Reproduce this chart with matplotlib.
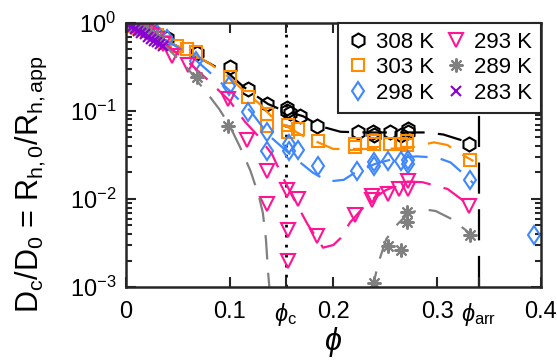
import matplotlib
matplotlib.use("Agg")
import matplotlib.pyplot as plt

plt.rcParams['font.family'] = ['Liberation Sans', 'DejaVu Sans']
plt.rcParams['mathtext.fontset'] = 'custom'
plt.rcParams['mathtext.rm'] = 'Liberation Sans'
plt.rcParams['mathtext.it'] = 'Liberation Sans:italic'
plt.rcParams['mathtext.default'] = 'regular'

# measured points
phi308 = [0, 0.004, 0.008, 0.012, 0.016, 0.02, 0.03, 0.04, 0.069, 0.1005, 0.118, 0.136,
          0.1556, 0.1556, 0.158, 0.168, 0.1845, 0.224, 0.238, 0.239, 0.255, 0.265, 0.2715, 0.2715, 0.331]
D308 = [1.0, 0.97, 0.93, 0.9, 0.86, 0.83, 0.75, 0.67, 0.45, 0.318, 0.178, 0.12,
        0.108, 0.1, 0.095, 0.087, 0.067, 0.057, 0.058, 0.054, 0.058, 0.054, 0.062, 0.057, 0.042]

phi303 = [0, 0.004, 0.008, 0.012, 0.016, 0.02, 0.03, 0.038, 0.049, 0.059, 0.068, 0.1, 0.118,
          0.136, 0.136, 0.1566, 0.1566, 0.166, 0.185, 0.221, 0.221, 0.239, 0.239, 0.255, 0.265,
          0.271, 0.271, 0.332]
D303 = [1.0, 0.96, 0.92, 0.88, 0.85, 0.82, 0.72, 0.61, 0.55, 0.5, 0.47, 0.245, 0.145,
        0.093, 0.068, 0.07, 0.058, 0.062, 0.045, 0.042, 0.039, 0.045, 0.042, 0.042, 0.042,
        0.045, 0.041, 0.028]

phi298 = [0, 0.006, 0.012, 0.018, 0.024, 0.03, 0.04, 0.068, 0.099, 0.118, 0.136, 0.136,
          0.157, 0.157, 0.166, 0.185, 0.223, 0.239, 0.239, 0.253, 0.265, 0.272, 0.272, 0.332, 0.393]
D298 = [1.0, 1.02, 0.93, 0.87, 0.8, 0.75, 0.65, 0.37, 0.19, 0.097, 0.057, 0.035,
        0.042, 0.035, 0.036, 0.024, 0.0206, 0.026, 0.024, 0.027, 0.027, 0.028, 0.025, 0.0166, 0.0039]

phi293 = [0, 0.003, 0.006, 0.009, 0.012, 0.015, 0.018, 0.021, 0.025, 0.03, 0.036, 0.044, 0.06,
          0.0986, 0.117, 0.136, 0.136, 0.1556, 0.1566, 0.1566, 0.166, 0.1845, 0.221, 0.237,
          0.237, 0.253, 0.263, 0.272, 0.272, 0.331]
D293 = [1.0, 0.97, 0.94, 0.91, 0.88, 0.85, 0.8, 0.76, 0.72, 0.65, 0.58, 0.42, 0.33,
        0.137, 0.047, 0.021, 0.0088, 0.0125, 0.0045, 0.002, 0.0101, 0.0038, 0.0066, 0.0107,
        0.0098, 0.0113, 0.0129, 0.016, 0.013, 0.0083]

phi289 = [0, 0.005, 0.01, 0.015, 0.02, 0.03, 0.0686, 0.0986, 0.239, 0.253, 0.265, 0.271, 0.271, 0.332]
D289 = [1.0, 0.95, 0.9, 0.85, 0.8, 0.7, 0.24, 0.067, 0.0011, 0.0029, 0.0026, 0.0072, 0.0055, 0.0039]

phi283 = [0, 0.003, 0.006, 0.009, 0.012, 0.015, 0.018, 0.021, 0.024, 0.027, 0.03, 0.033, 0.036]
D283 = [1.0, 0.95, 0.91, 0.86, 0.82, 0.77, 0.74, 0.7, 0.66, 0.63, 0.6, 0.57, 0.54]

# fitted curves
fphi308 = [0, 0.02, 0.04, 0.06, 0.08, 0.1, 0.113, 0.125, 0.137, 0.15, 0.171, 0.1875, 0.207,
           0.23, 0.26, 0.29, 0.306, 0.3275, 0.335]
fD308 = [1, 0.8, 0.62, 0.47, 0.35, 0.26, 0.19, 0.15, 0.12, 0.103, 0.087, 0.067, 0.058,
         0.057, 0.057, 0.057, 0.054, 0.045, 0.041]

fphi303 = [0, 0.02, 0.04, 0.06, 0.08, 0.1, 0.11, 0.129, 0.141, 0.151, 0.171, 0.2, 0.216,
           0.245, 0.274, 0.285, 0.297, 0.31, 0.32, 0.335]
fD303 = [1, 0.8, 0.62, 0.48, 0.35, 0.24, 0.185, 0.12, 0.085, 0.071, 0.052, 0.037, 0.037,
         0.037, 0.038, 0.041, 0.044, 0.041, 0.034, 0.027]

fphi298 = [0, 0.02, 0.04, 0.06, 0.08, 0.1, 0.12, 0.132, 0.14, 0.16, 0.18, 0.195, 0.21, 0.221,
           0.24, 0.26, 0.28, 0.3, 0.313, 0.329, 0.335]
fD298 = [1, 0.8, 0.62, 0.45, 0.28, 0.17, 0.1, 0.065, 0.05, 0.031, 0.02, 0.0158, 0.0165, 0.02,
         0.025, 0.029, 0.0305, 0.0295, 0.026, 0.0177, 0.015]

fphi293 = [0, 0.02, 0.04, 0.06, 0.08, 0.1, 0.115, 0.1275, 0.141, 0.15, 0.16, 0.175, 0.19, 0.2,
           0.207, 0.216, 0.233, 0.25, 0.27, 0.286, 0.31, 0.33, 0.335]
fD293 = [1, 0.78, 0.55, 0.36, 0.22, 0.13, 0.075, 0.052, 0.032, 0.019, 0.011, 0.0052, 0.0028,
         0.003, 0.0036, 0.0054, 0.0091, 0.0125, 0.0158, 0.0155, 0.013, 0.0087, 0.0078]

fphi289a = [0, 0.02, 0.04, 0.06, 0.07, 0.08, 0.09, 0.1, 0.11, 0.12, 0.128, 0.132, 0.135, 0.137, 0.139]
fD289a = [1, 0.76, 0.52, 0.3, 0.21, 0.15, 0.105, 0.068, 0.039, 0.021, 0.011, 0.007, 0.0035, 0.0015, 0.0008]
fphi289b = [0.2375, 0.2395, 0.2435, 0.251, 0.262, 0.272, 0.285, 0.2986, 0.313, 0.329, 0.335]
fD289b = [0.0008, 0.0012, 0.0019, 0.0035, 0.0052, 0.0068, 0.0077, 0.0073, 0.006, 0.0043, 0.0037]

phi_c = 0.154
phi_arr = 0.34

c308 = 'black'
c303 = '#ff8c00'
c298 = '#3f87ff'
c293 = '#ff1493'
c289 = '#808080'
c283 = '#8a00d4'

fig = plt.figure(figsize=(5.57, 3.64), dpi=100)
ax = fig.add_axes([0.226, 0.2115, 0.745, 0.7255])

fitstyle = dict(lw=1.6, dashes=(11, 6))
mk = dict(ls='none', mfc='none', mew=1.5)

ax.plot(phi308, D308, marker='h', ms=10, mec=c308, label='308 K', **mk)
ax.plot(fphi308, fD308, color=c308, **fitstyle)
ax.plot(phi303, D303, marker='s', ms=8, mec=c303, label='303 K', **mk)
ax.plot(fphi303, fD303, color=c303, **fitstyle)
ax.plot(phi298, D298, marker='d', ms=9.5, mec=c298, label='298 K', **mk)
ax.plot(fphi298, fD298, color=c298, **fitstyle)
ax.plot(phi293, D293, marker='v', ms=10, mec=c293, label='293 K', **mk)
ax.plot(fphi293, fD293, color=c293, **fitstyle)
ax.plot(phi289, D289, marker=(8, 2, 0), ms=10, mec=c289, label='289 K', **mk)
ax.plot(fphi289a, fD289a, color=c289, **fitstyle)
ax.plot(fphi289b, fD289b, color=c289, **fitstyle)
ax.plot(phi283, D283, marker='x', ms=7, mec=c283, label='283 K', **mk)

ax.axvline(phi_c, color='black', lw=2, dashes=(1, 2.6), zorder=1)
ax.axvline(phi_arr, color='black', lw=1.6, dashes=(14, 7), zorder=1)

ax.set_yscale('log')
ax.set_xlim(0, 0.4)
ax.set_ylim(1e-3, 1)
ax.set_yticks([1e-3, 1e-2, 1e-1, 1])
ax.set_xticks([0, 0.1, phi_c, 0.2, 0.3, phi_arr, 0.4])
ax.set_xticklabels(['0', '0.1', r'$\mathit{\phi}_\mathrm{c}$', '0.2', '0.3',
                    r'$\mathit{\phi}_\mathrm{arr}$', '0.4'])
ax.tick_params(which='both', direction='in', top=True, right=True, labelsize=17,
               color='#262626', width=1.5)
ax.tick_params(which='major', length=7)
ax.tick_params(which='minor', length=4)
ax.tick_params(axis='x', pad=10)
ax.tick_params(axis='y', pad=7)
for s in ax.spines.values():
    s.set_linewidth(1.8)
    s.set_color('#262626')

ax.set_xlabel(r'$\mathit{\phi}$', fontsize=22, labelpad=-2)
ax.set_ylabel(r'D$_c$/D$_0$ = R$_{h,0}$/R$_{h,app}$', fontsize=22)
ax.yaxis.set_label_coords(-0.185, 0.39)

leg = ax.legend(ncol=2, loc='upper right', fontsize=16, frameon=True, fancybox=False,
                edgecolor='#262626', framealpha=1, borderaxespad=0, handletextpad=0.3,
                columnspacing=0.5, labelspacing=0.2, handlelength=1.0, borderpad=0.4)
leg.get_frame().set_linewidth(1.5)

fig.savefig('out.png', dpi=100)
